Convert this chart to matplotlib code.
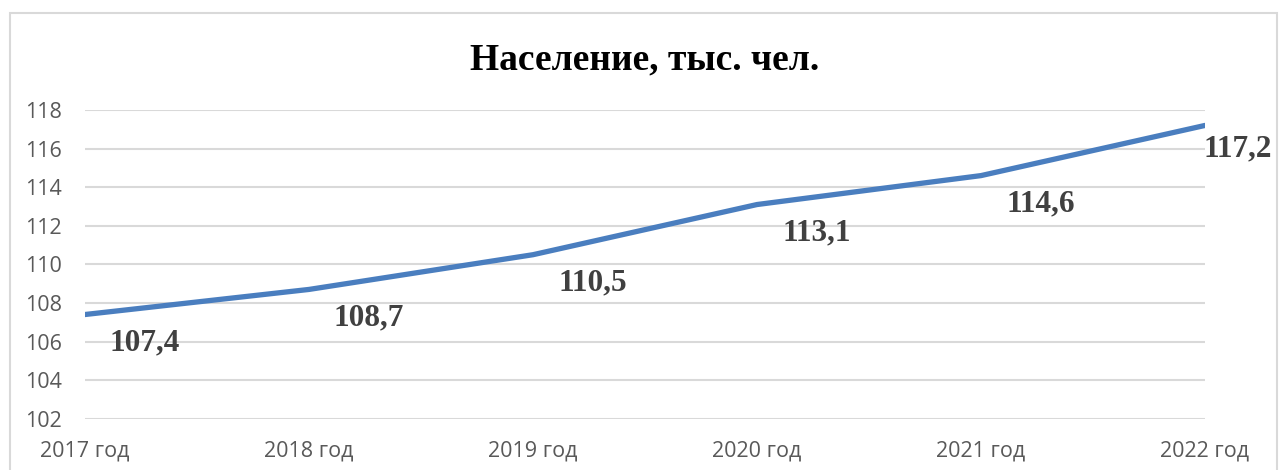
import numpy as np
import matplotlib.pyplot as plt
from matplotlib.patches import Rectangle

years = ['2017 год', '2018 год', '2019 год', '2020 год', '2021 год', '2022 год']
population = [107.4, 108.7, 110.5, 113.1, 114.6, 117.2]
value_labels = ['107,4', '108,7', '110,5', '113,1', '114,6', '117,2']
yticks = [102, 104, 106, 108, 110, 112, 114, 116, 118]

W, H = 1283, 470
fig = plt.figure(figsize=(W / 100, H / 100), dpi=100)
fig.patch.set_facecolor('white')

# outer chart frame (bottom edge is cut off in the source)
fig.add_artist(Rectangle((9.5 / W, -0.05), (1277 - 9.5) / W, 1.05 - 13.5 / H,
                         transform=fig.transFigure, fill=False,
                         edgecolor='#D9D9D9', linewidth=1.5))

ax = fig.add_axes([85 / W, (H - 418.7) / H, 1120 / W, 308.7 / H])
x = np.arange(len(years))
ax.plot(x, population, color='#4A7EBF', linewidth=3.8, solid_capstyle='round', zorder=3)

ax.set_xlim(0, len(years) - 1)
ax.set_ylim(102, 118)
ax.set_yticks(yticks)
ax.set_xticks(x)
ax.set_xticklabels(years)
ax.grid(axis='y', color='#D9D9D9', linewidth=1.5)
ax.set_axisbelow(True)
for s in ax.spines.values():
    s.set_visible(False)
ax.tick_params(length=0, labelsize=15.5, labelcolor='#595959')
ax.tick_params(axis='y', pad=16.5)
ax.tick_params(axis='x', pad=16)
for lab in ax.get_xticklabels() + ax.get_yticklabels():
    lab.set_fontfamily('Open Sans')

# data labels
for i, (v, t) in enumerate(zip(population, value_labels)):
    if i == len(population) - 1:
        off, ha = (-2, -23), 'left'
    else:
        off, ha = (60, -28), 'center'
    ax.annotate(t, (i, v), xytext=off, textcoords='offset pixels',
                ha=ha, va='center', fontsize=22.5, fontweight='bold',
                fontfamily='Liberation Serif', color='#404040',
                annotation_clip=False)

fig.text(645 / W, 1 - 60 / H, 'Население, тыс. чел.', ha='center', va='center',
         fontsize=27, fontweight='bold', fontfamily='Liberation Serif', color='black')

fig.savefig('out.png', dpi=100)
